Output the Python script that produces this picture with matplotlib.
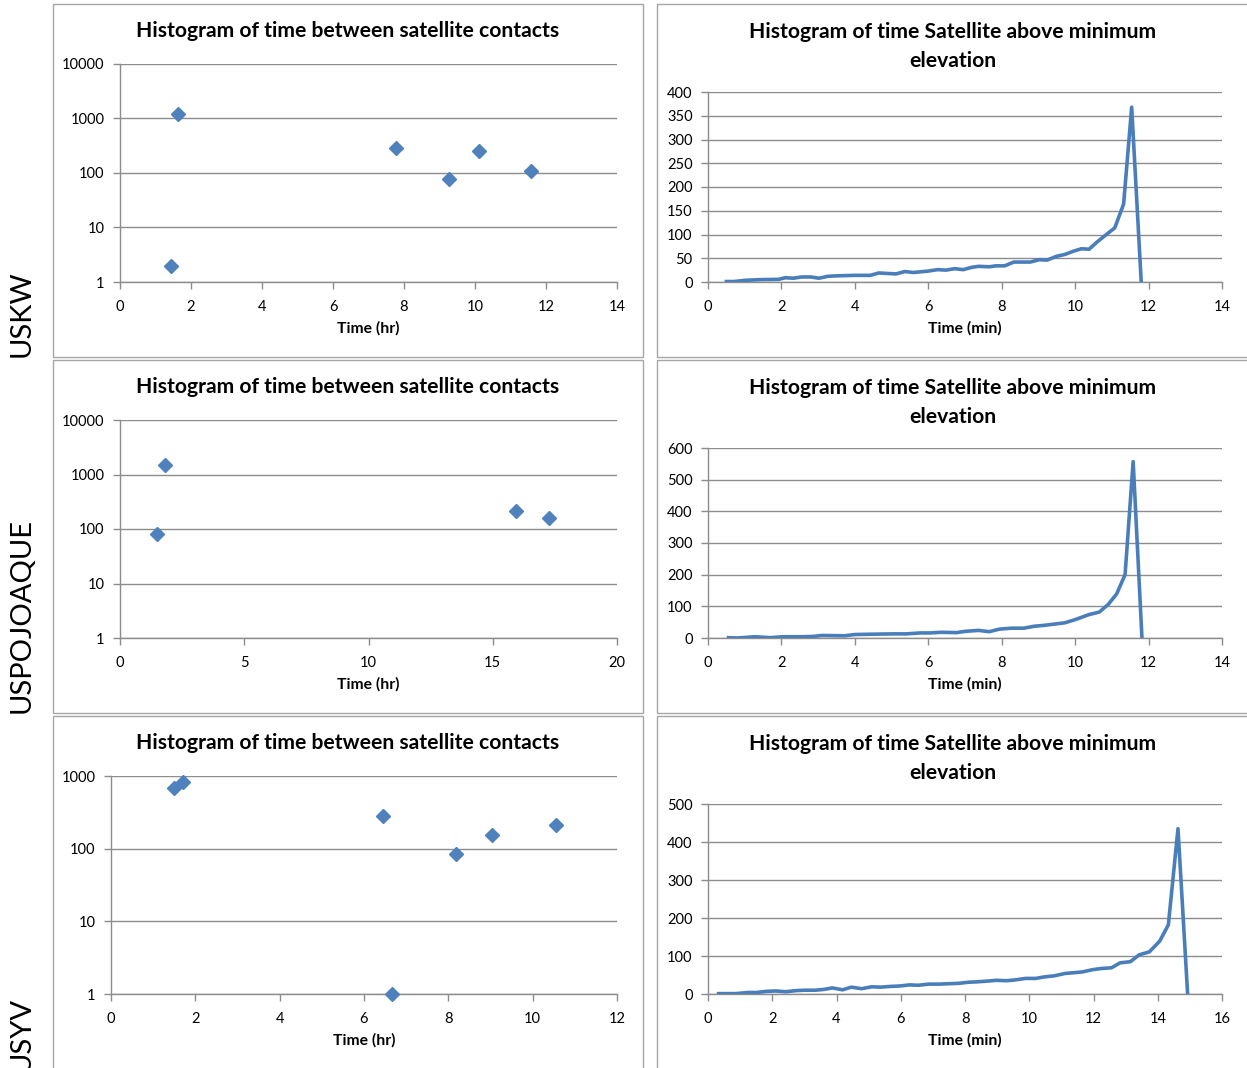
import matplotlib
matplotlib.use("Agg")
import matplotlib.pyplot as plt
from matplotlib.patches import Rectangle
from matplotlib.ticker import FixedLocator, FuncFormatter

plt.rcParams['font.family'] = ['Lato', 'DejaVu Sans']

# time between satellite contacts (hr) and counts, per station
uskw_gap_hr = [1.43, 1.63, 7.78, 9.26, 10.1, 11.58]
uskw_gap_count = [2, 1200, 288, 79, 255, 109]

uspoj_gap_hr = [1.49, 1.81, 15.93, 17.26]
uspoj_gap_count = [81, 1490, 214, 159]

usyv_gap_hr = [1.49, 1.71, 6.45, 6.66, 8.18, 9.03, 10.55]
usyv_gap_count = [684, 826, 282, 1, 84, 154, 211]

# time satellite above minimum elevation (min) and counts
uskw_pass_min = [0.50, 0.71, 1.00, 1.42, 1.93, 2.10, 2.33, 2.55, 2.80, 3.02,
                 3.27, 3.53, 4.00, 4.42, 4.65, 5.12, 5.36, 5.59, 6.00, 6.25,
                 6.48, 6.72, 6.95, 7.19, 7.37, 7.66, 7.84, 8.08, 8.33, 8.55,
                 8.78, 9.02, 9.23, 9.49, 9.72, 9.96, 10.17, 10.38, 10.61, 10.85,
                 11.08, 11.32, 11.54, 11.80]
uskw_pass_count = [1, 1, 3.5, 5, 5.6, 9, 8, 10.6, 10.6, 8,
                   12, 13, 14, 14, 19, 17, 22, 20, 23, 26,
                   25, 28, 26, 31, 33, 32, 34, 34, 42, 42,
                   42, 47, 46, 54, 58, 65, 70, 69, 85, 100,
                   114, 164, 368, 0]

uspoj_pass_min = [0.56, 0.80, 1.28, 1.70, 2.03, 2.60, 2.87, 3.10, 3.72, 4.00,
                  4.47, 5.03, 5.40, 5.78, 6.06, 6.34, 6.77, 7.00, 7.37, 7.66,
                  7.94, 8.27, 8.60, 8.88, 9.16, 9.44, 9.72, 10.00, 10.38, 10.66,
                  10.90, 11.13, 11.36, 11.58, 11.82]
uspoj_pass_count = [1, 0, 4, 1, 4, 4, 5, 8, 7, 11,
                    12, 13, 13, 16, 16, 18, 17, 21, 24, 20,
                    28, 31, 31, 37, 40, 44, 48, 58, 74, 82,
                    106, 139, 200, 557, 0]

usyv_pass_min = [0.33, 0.87, 1.24, 1.51, 1.83, 2.10, 2.42, 2.75, 3.01, 3.34,
                 3.60, 3.87, 4.19, 4.46, 4.78, 5.10, 5.37, 5.69, 5.96, 6.28,
                 6.55, 6.87, 7.20, 7.46, 7.79, 8.11, 8.38, 8.70, 8.97, 9.29,
                 9.56, 9.88, 10.20, 10.47, 10.79, 11.11, 11.38, 11.65, 11.97, 12.23,
                 12.56, 12.83, 13.15, 13.42, 13.74, 14.06, 14.33, 14.63, 14.93]
usyv_pass_count = [1, 1, 4, 4, 7, 8, 6, 9, 10, 10,
                   12, 16, 11, 18, 14, 19, 18, 20, 21, 24,
                   23, 26, 26, 27, 28, 31, 32, 34, 36, 35,
                   37, 41, 41, 45, 48, 54, 56, 58, 64, 67,
                   69, 82, 85, 103, 111, 139, 182, 435, 0]

stations = ['USKW', 'USPOJOAQUE', 'USYV']

W, H = 1247, 1068
fig = plt.figure(figsize=(W / 100, H / 100), dpi=100)

grid_col = '#8c8c8c'
axis_col = '#8c8c8c'
blue_line = '#4a7ebb'
blue_mark = '#4f81bd'


def px_axes(left, top, right, bottom):
    return fig.add_axes([left / W, 1 - bottom / H, (right - left) / W, (bottom - top) / H])


def px_text(x, y, s, **kw):
    fig.text(x / W, 1 - y / H, s, ha='center', va='center', **kw)


def panel_box(left, top, right, bottom):
    fig.patches.append(Rectangle((left / W, 1 - bottom / H), (right - left) / W, (bottom - top) / H,
                                 transform=fig.transFigure, fill=False,
                                 edgecolor='#a6a6a6', linewidth=1.0))


def style_axes(ax):
    for s in ['top', 'right']:
        ax.spines[s].set_visible(False)
    for s in ['left', 'bottom']:
        ax.spines[s].set_color(axis_col)
        ax.spines[s].set_linewidth(1.0)
    ax.tick_params(axis='both', direction='out', length=5, width=1.0, color=axis_col,
                   labelsize=10.5, labelcolor='black')
    ax.tick_params(axis='x', pad=8)
    ax.tick_params(axis='y', pad=6)
    ax.grid(axis='y', color=grid_col, linewidth=1.0)
    ax.set_axisbelow(True)


def scatter_panel(ax, x, y, xmax, xstep, ymax):
    ax.plot(x, y, linestyle='none', marker='D', markersize=7.5,
            color=blue_mark, markeredgecolor=blue_mark, clip_on=False, zorder=3)
    ax.set_yscale('log')
    ax.set_ylim(1, ymax)
    ax.set_xlim(0, xmax)
    ax.xaxis.set_major_locator(FixedLocator(list(range(0, xmax + 1, xstep))))
    decades = []
    v = 1
    while v <= ymax:
        decades.append(v)
        v *= 10
    ax.yaxis.set_major_locator(FixedLocator(decades))
    ax.yaxis.set_minor_locator(FixedLocator([]))
    ax.yaxis.set_major_formatter(FuncFormatter(lambda val, pos: f'{int(round(val))}'))
    style_axes(ax)


def line_panel(ax, x, y, xmax, ymax, ystep):
    ax.plot(x, y, color=blue_line, linewidth=2.6, solid_joinstyle='round', zorder=3)
    ax.set_xlim(0, xmax)
    ax.set_ylim(0, ymax)
    ax.xaxis.set_major_locator(FixedLocator(list(range(0, xmax + 1, 2))))
    ax.yaxis.set_major_locator(FixedLocator(list(range(0, ymax + 1, ystep))))
    style_axes(ax)


# panel frames
rows = [(4, 357), (360, 713), (716, 1072)]
for top, bottom in rows:
    panel_box(53, top, 643, bottom)
    panel_box(657, top, 1252, bottom)

gap_title = 'Histogram of time between satellite contacts'
pass_title = 'Histogram of time Satellite above minimum\nelevation'

# row 1 - USKW
ax = px_axes(120, 64, 617, 282)
scatter_panel(ax, uskw_gap_hr, uskw_gap_count, 14, 2, 10000)
ax = px_axes(708, 92, 1222, 282)
line_panel(ax, uskw_pass_min, uskw_pass_count, 14, 400, 50)

# row 2 - USPOJOAQUE
ax = px_axes(120, 420, 617, 638)
scatter_panel(ax, uspoj_gap_hr, uspoj_gap_count, 20, 5, 10000)
ax = px_axes(708, 448, 1222, 638)
line_panel(ax, uspoj_pass_min, uspoj_pass_count, 14, 600, 100)

# row 3 - USYV
ax = px_axes(111, 776, 617, 994)
scatter_panel(ax, usyv_gap_hr, usyv_gap_count, 12, 2, 1000)
ax = px_axes(708, 804, 1222, 994)
line_panel(ax, usyv_pass_min, usyv_pass_count, 16, 500, 100)

title_kw = dict(fontsize=15.2, fontweight='bold')
label_kw = dict(fontsize=11.3, fontweight='bold')
for i, (top, bottom) in enumerate(rows):
    off = top - 4
    px_text(348, 31 + off, gap_title, **title_kw)
    px_text(953, 32 + off, pass_title.split('\n')[0], **title_kw)
    px_text(953, 61 + off, pass_title.split('\n')[1], **title_kw)
    px_text(368 if i < 2 else 364, 328 + off, 'Time (hr)', **label_kw)
    px_text(965, 328 + off, 'Time (min)', **label_kw)
    fig.text(22 / W, 1 - (bottom) / H, stations[i], rotation=90, ha='center', va='bottom',
             fontsize=21)

fig.savefig('out.png', dpi=100)
